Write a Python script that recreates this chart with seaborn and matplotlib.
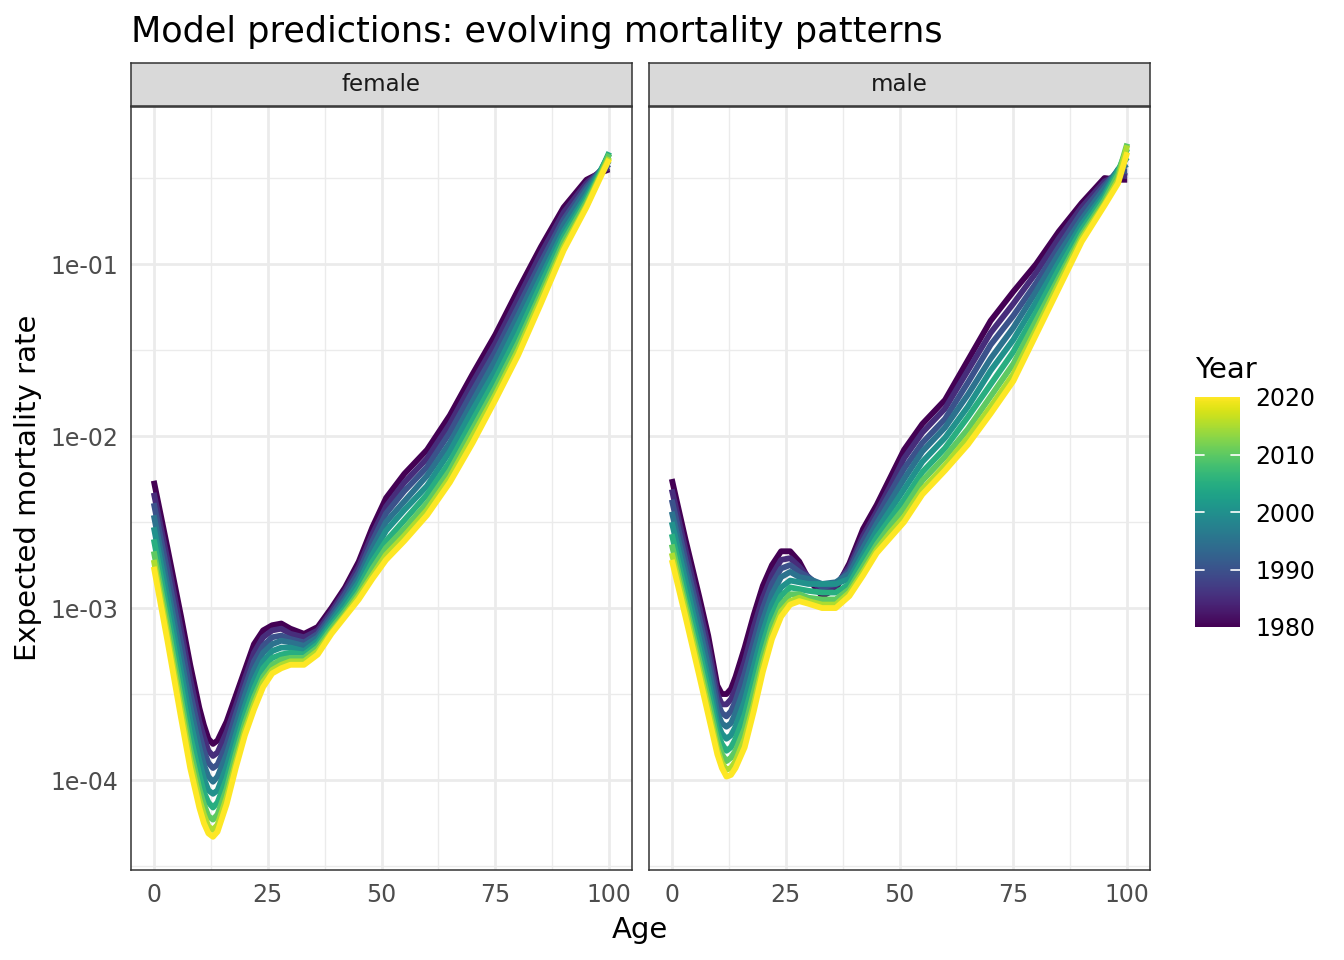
import numpy as np
import pandas as pd
import matplotlib
matplotlib.use("Agg")
import matplotlib.pyplot as plt
from matplotlib.ticker import FixedLocator, NullFormatter
from matplotlib.colors import Normalize
from matplotlib.cm import ScalarMappable
import seaborn as sns

# ---------------- data ----------------
AGES = [0, 3, 6, 8, 10, 11, 12, 13, 14, 16, 18, 20, 22, 24, 26, 28, 30,
        33, 36, 39, 42, 45, 48, 51, 55, 60, 65, 70, 75, 80, 85, 90, 95,
        98, 100]
YEARS = [1980, 1985, 1990, 1995, 2000, 2005, 2010, 2015, 2020]
SEXES = ["female", "male"]

# log10(expected mortality rate); one row per age, one column per year
FEMALE_LOG10_RATE = [
    [-2.26, -2.33, -2.39, -2.46, -2.53, -2.60, -2.67, -2.72, -2.76],
    [-2.65, -2.72, -2.79, -2.87, -2.94, -3.02, -3.09, -3.15, -3.19],
    [-3.05, -3.13, -3.20, -3.29, -3.37, -3.45, -3.53, -3.59, -3.64],
    [-3.33, -3.41, -3.49, -3.57, -3.65, -3.74, -3.82, -3.88, -3.93],
    [-3.58, -3.66, -3.73, -3.81, -3.89, -3.97, -4.05, -4.11, -4.16],
    [-3.68, -3.75, -3.83, -3.91, -3.99, -4.07, -4.14, -4.20, -4.25],
    [-3.76, -3.83, -3.90, -3.98, -4.06, -4.13, -4.21, -4.27, -4.31],
    [-3.79, -3.86, -3.93, -4.01, -4.08, -4.16, -4.23, -4.29, -4.33],
    [-3.77, -3.84, -3.91, -3.98, -4.06, -4.13, -4.20, -4.26, -4.30],
    [-3.66, -3.72, -3.79, -3.85, -3.92, -3.99, -4.05, -4.10, -4.14],
    [-3.51, -3.57, -3.62, -3.68, -3.74, -3.80, -3.85, -3.90, -3.93],
    [-3.36, -3.41, -3.46, -3.51, -3.57, -3.62, -3.67, -3.71, -3.74],
    [-3.21, -3.26, -3.31, -3.36, -3.42, -3.47, -3.52, -3.56, -3.59],
    [-3.13, -3.17, -3.22, -3.26, -3.31, -3.35, -3.40, -3.43, -3.46],
    [-3.10, -3.13, -3.17, -3.21, -3.25, -3.29, -3.33, -3.36, -3.38],
    [-3.09, -3.12, -3.16, -3.19, -3.23, -3.27, -3.30, -3.33, -3.35],
    [-3.12, -3.15, -3.18, -3.20, -3.23, -3.26, -3.29, -3.31, -3.33],
    [-3.15, -3.17, -3.20, -3.22, -3.25, -3.27, -3.29, -3.31, -3.33],
    [-3.11, -3.13, -3.15, -3.17, -3.19, -3.21, -3.23, -3.25, -3.27],
    [-3.00, -3.02, -3.04, -3.06, -3.08, -3.10, -3.12, -3.14, -3.15],
    [-2.88, -2.90, -2.92, -2.95, -2.97, -3.00, -3.02, -3.04, -3.05],
    [-2.73, -2.76, -2.79, -2.82, -2.85, -2.88, -2.91, -2.93, -2.95],
    [-2.53, -2.57, -2.61, -2.65, -2.69, -2.73, -2.77, -2.81, -2.83],
    [-2.36, -2.41, -2.45, -2.50, -2.55, -2.61, -2.65, -2.69, -2.72],
    [-2.22, -2.27, -2.32, -2.38, -2.43, -2.49, -2.54, -2.58, -2.61],
    [-2.08, -2.13, -2.18, -2.23, -2.29, -2.34, -2.39, -2.43, -2.46],
    [-1.88, -1.93, -1.98, -2.04, -2.09, -2.15, -2.20, -2.24, -2.27],
    [-1.64, -1.69, -1.74, -1.80, -1.85, -1.91, -1.96, -2.00, -2.04],
    [-1.41, -1.46, -1.51, -1.56, -1.62, -1.67, -1.72, -1.76, -1.79],
    [-1.15, -1.20, -1.25, -1.30, -1.35, -1.41, -1.46, -1.50, -1.53],
    [-0.90, -0.94, -0.99, -1.03, -1.08, -1.12, -1.17, -1.20, -1.23],
    [-0.67, -0.70, -0.74, -0.77, -0.81, -0.84, -0.87, -0.90, -0.92],
    [-0.51, -0.53, -0.55, -0.57, -0.60, -0.62, -0.64, -0.66, -0.67],
    [-0.47, -0.46, -0.46, -0.46, -0.46, -0.47, -0.48, -0.49, -0.50],
    [-0.45, -0.44, -0.42, -0.40, -0.36, -0.35, -0.36, -0.38, -0.39],
]

MALE_LOG10_RATE = [
    [-2.25, -2.31, -2.37, -2.44, -2.50, -2.57, -2.63, -2.68, -2.72],
    [-2.60, -2.66, -2.72, -2.78, -2.84, -2.91, -2.97, -3.01, -3.05],
    [-2.93, -2.99, -3.05, -3.11, -3.18, -3.24, -3.30, -3.35, -3.39],
    [-3.16, -3.22, -3.28, -3.34, -3.41, -3.47, -3.53, -3.58, -3.62],
    [-3.45, -3.50, -3.55, -3.61, -3.67, -3.72, -3.77, -3.82, -3.85],
    [-3.50, -3.56, -3.61, -3.67, -3.73, -3.79, -3.85, -3.90, -3.93],
    [-3.50, -3.56, -3.63, -3.69, -3.76, -3.83, -3.89, -3.94, -3.98],
    [-3.47, -3.53, -3.60, -3.67, -3.74, -3.81, -3.87, -3.93, -3.97],
    [-3.40, -3.47, -3.54, -3.61, -3.69, -3.76, -3.83, -3.89, -3.93],
    [-3.23, -3.31, -3.38, -3.46, -3.54, -3.62, -3.70, -3.76, -3.81],
    [-3.04, -3.11, -3.19, -3.26, -3.34, -3.42, -3.49, -3.56, -3.60],
    [-2.87, -2.94, -3.00, -3.07, -3.14, -3.21, -3.28, -3.33, -3.37],
    [-2.75, -2.81, -2.86, -2.92, -2.98, -3.04, -3.10, -3.15, -3.18],
    [-2.67, -2.72, -2.77, -2.82, -2.88, -2.93, -2.98, -3.02, -3.05],
    [-2.67, -2.71, -2.75, -2.79, -2.84, -2.88, -2.92, -2.96, -2.98],
    [-2.73, -2.76, -2.79, -2.82, -2.85, -2.89, -2.92, -2.94, -2.96],
    [-2.83, -2.82, -2.82, -2.83, -2.86, -2.90, -2.94, -2.96, -2.975],
    [-2.93, -2.90, -2.88, -2.86, -2.86, -2.91, -2.95, -2.98, -3.00],
    [-2.89, -2.87, -2.86, -2.85, -2.86, -2.91, -2.95, -2.98, -3.00],
    [-2.74, -2.76, -2.78, -2.80, -2.83, -2.86, -2.89, -2.91, -2.93],
    [-2.54, -2.58, -2.61, -2.65, -2.69, -2.72, -2.76, -2.79, -2.81],
    [-2.40, -2.44, -2.47, -2.51, -2.55, -2.59, -2.63, -2.66, -2.68],
    [-2.24, -2.29, -2.33, -2.38, -2.43, -2.48, -2.52, -2.56, -2.59],
    [-2.08, -2.13, -2.19, -2.25, -2.31, -2.37, -2.42, -2.47, -2.50],
    [-1.93, -1.98, -2.04, -2.09, -2.15, -2.21, -2.26, -2.31, -2.34],
    [-1.79, -1.84, -1.90, -1.95, -2.01, -2.07, -2.12, -2.17, -2.20],
    [-1.56, -1.62, -1.69, -1.76, -1.83, -1.89, -1.96, -2.01, -2.05],
    [-1.33, -1.40, -1.47, -1.55, -1.62, -1.70, -1.77, -1.83, -1.87],
    [-1.16, -1.23, -1.30, -1.37, -1.44, -1.51, -1.58, -1.64, -1.68],
    [-1.00, -1.05, -1.11, -1.16, -1.22, -1.28, -1.33, -1.38, -1.41],
    [-0.81, -0.85, -0.90, -0.94, -0.99, -1.03, -1.08, -1.11, -1.14],
    [-0.645, -0.67, -0.70, -0.74, -0.77, -0.80, -0.83, -0.85, -0.87],
    [-0.50, -0.52, -0.54, -0.56, -0.59, -0.61, -0.63, -0.65, -0.66],
    [-0.51, -0.48, -0.46, -0.45, -0.45, -0.46, -0.48, -0.51, -0.53],
    [-0.51, -0.49, -0.46, -0.42, -0.38, -0.33, -0.30, -0.31, -0.35],
]

X_TICKS = [0, 25, 50, 75, 100]
X_MINOR = [12.5, 37.5, 62.5, 87.5]
Y_TICKS = [1e-4, 1e-3, 1e-2, 1e-1]
Y_TICK_LABELS = ["1e-04", "1e-03", "1e-02", "1e-01"]
Y_MINOR = [10 ** -4.5, 10 ** -3.5, 10 ** -2.5, 10 ** -1.5, 10 ** -0.5]
LEGEND_TICKS = [1980, 1990, 2000, 2010, 2020]

TITLE = "Model predictions: evolving mortality patterns"


def long_frame(sex, table):
    rows = []
    for age, row in zip(AGES, table):
        for year, lv in zip(YEARS, row):
            rows.append((sex, age, year, 10.0 ** lv))
    return pd.DataFrame(rows, columns=["sex", "age", "year", "rate"])


df = pd.concat([long_frame("female", FEMALE_LOG10_RATE),
                long_frame("male", MALE_LOG10_RATE)], ignore_index=True)

# ---------------- styling ----------------
sns.set_style("white")
plt.rcParams["font.family"] = ["DejaVu Sans"]

W, H = 1344, 960
fig = plt.figure(figsize=(W / 100, H / 100), dpi=100)
fig.patch.set_facecolor("white")

PANEL_LEFT = [131, 649]
PANEL_W = 501
PANEL_TOP, PANEL_BOTTOM = 107, 870
STRIP_TOP, STRIP_BOTTOM = 63, 106
BORDER = "#333333"
GRID = "#EBEBEB"
norm = Normalize(1980, 2020)

for i, sex in enumerate(SEXES):
    left = PANEL_LEFT[i]
    ax = fig.add_axes([left / W, 1 - PANEL_BOTTOM / H, PANEL_W / W,
                       (PANEL_BOTTOM - PANEL_TOP) / H])
    sns.lineplot(data=df[df["sex"] == sex], x="age", y="rate", hue="year",
                 palette="viridis", hue_norm=(1980, 2020), legend=False,
                 estimator=None, linewidth=4.2, ax=ax)
    for ln in ax.lines:
        ln.set_solid_joinstyle("round")
        ln.set_solid_capstyle("butt")
    ax.set_yscale("log")
    ax.set_xlim(-5, 105)
    ax.set_ylim(10 ** -4.523, 10 ** -0.087)
    ax.set_xticks(X_TICKS)
    ax.set_xticklabels([str(t) for t in X_TICKS])
    ax.xaxis.set_minor_locator(FixedLocator(X_MINOR))
    ax.set_yticks(Y_TICKS)
    ax.set_yticklabels(Y_TICK_LABELS)
    ax.yaxis.set_minor_locator(FixedLocator(Y_MINOR))
    ax.yaxis.set_minor_formatter(NullFormatter())
    ax.set_axisbelow(True)
    ax.grid(which="major", color=GRID, linewidth=2.0)
    ax.grid(which="minor", color=GRID, linewidth=1.0)
    ax.set_xlabel("")
    ax.set_ylabel("")
    for sp in ax.spines.values():
        sp.set_color(BORDER)
        sp.set_linewidth(1.1)
    ax.tick_params(which="major", length=5, width=1.1, color=BORDER,
                   labelcolor="#4D4D4D", labelsize=17, pad=4)
    ax.tick_params(which="minor", length=0)
    if i == 1:
        ax.tick_params(axis="y", which="both", left=False, labelleft=False)

    sax = fig.add_axes([left / W, 1 - STRIP_BOTTOM / H, PANEL_W / W,
                        (STRIP_BOTTOM - STRIP_TOP) / H])
    sax.set_facecolor("#D9D9D9")
    sax.set_xticks([])
    sax.set_yticks([])
    for sp in sax.spines.values():
        sp.set_color(BORDER)
        sp.set_linewidth(1.1)
    sax.text(0.5, 0.5, sex, ha="center", va="center", fontsize=16.5,
             color="#1A1A1A", transform=sax.transAxes)

# title and axis titles
fig.text(131 / W, 1 - 42 / H, TITLE, ha="left", va="baseline",
         fontsize=25.3, color="black")
fig.text(640 / W, 1 - 930 / H, "Age", ha="center", va="center",
         fontsize=21, color="black")
fig.text(28 / W, 1 - 488 / H, "Expected mortality rate", ha="center",
         va="center", rotation=90, fontsize=21, color="black")

# colour bar legend
cax = fig.add_axes([1195 / W, 1 - 627 / H, 45 / W, 230 / H])
sm = ScalarMappable(norm=norm, cmap="viridis")
sm.set_array([])
cbar = fig.colorbar(sm, cax=cax, ticks=LEGEND_TICKS)
cbar.outline.set_visible(False)
cax.tick_params(length=0, labelsize=17, pad=11, labelcolor="black")
for y in LEGEND_TICKS[1:-1]:
    cax.axhline(y, xmin=0, xmax=0.2, color="white", linewidth=1.2)
    cax.axhline(y, xmin=0.8, xmax=1.0, color="white", linewidth=1.2)
fig.text(1195 / W, 1 - 370 / H, "Year", ha="left", va="center",
         fontsize=21, color="black")

fig.savefig("out.png", dpi=100, facecolor="white")
